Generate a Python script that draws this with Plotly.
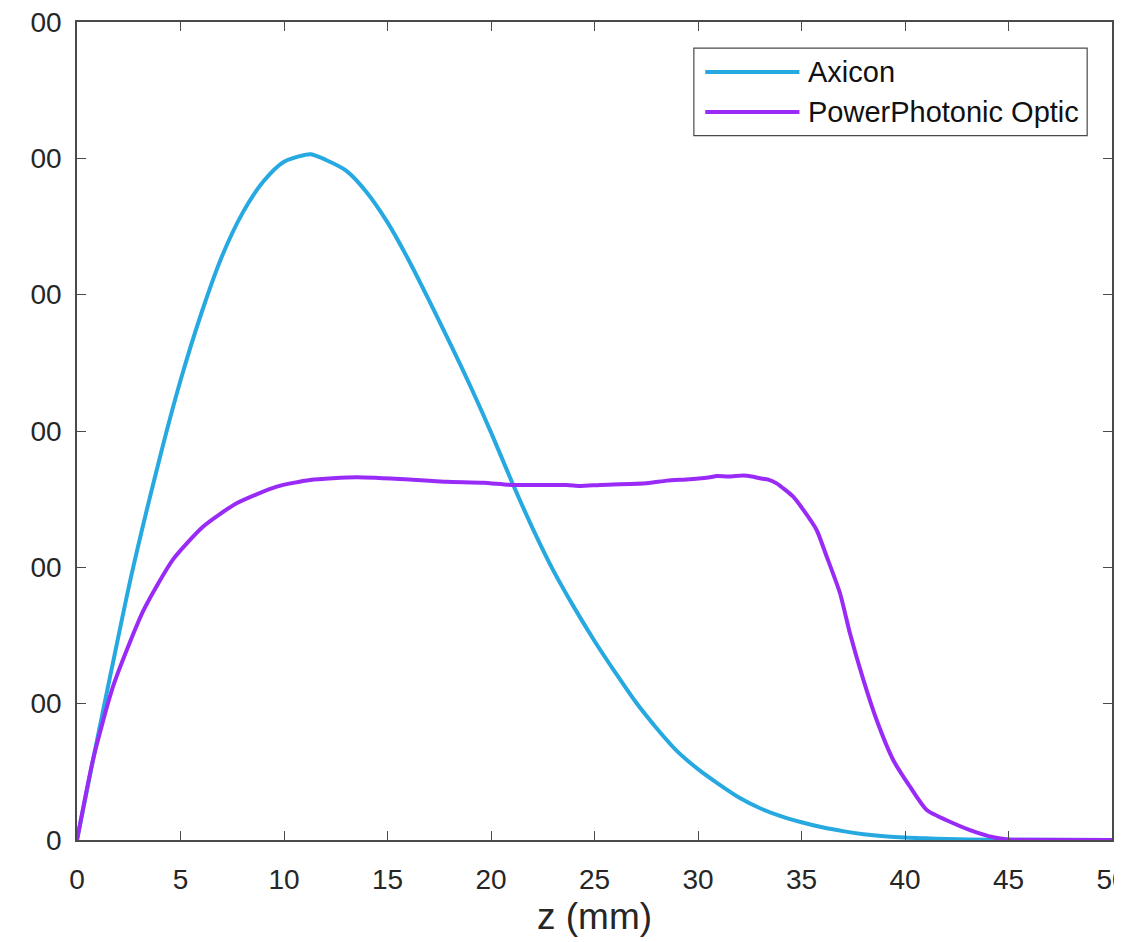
import plotly.graph_objects as go

# z positions (mm) and intensities
axicon_z = [0, 0.87, 1.75, 2.64, 4.01, 5, 6, 7, 8, 9, 10, 11, 11.3,
            12, 13, 14, 15, 16, 17, 18, 19, 20, 21, 22, 23, 24, 25, 26, 27, 28, 29, 30,
            31, 32, 33, 34, 35, 36, 37, 38, 39, 40, 41, 42, 43, 45, 50]
axicon_i = [0, 66, 131, 195, 281, 337, 386, 428, 460, 483, 497.5, 502.5, 503,
            499, 491, 475, 453, 426, 396, 365, 333, 299, 263, 229, 198, 171, 146, 123, 101,
            82, 65, 52, 41, 31, 23.3, 17.5, 13, 9.3, 6.5, 4.3, 2.8, 1.8, 1.2, 0.7, 0.4,
            0.15, 0]

pp_z = [0, 0.79, 1.75, 3.20, 4.65, 6.10, 7.71, 9.65, 11.26, 13.51, 16.41, 17.86, 19.63,
        21.08, 23.66, 24.30, 25.27, 27.52, 28.49, 29.6, 30.58, 30.90, 31.5, 32.19, 32.6,
        32.99, 33.4, 33.80, 34.60, 35.09, 35.73, 36.22, 36.86, 37.34, 37.99, 38.63, 39.43,
        40.24, 41.05, 42.17, 43.14, 44.27, 45.0, 46.0, 50]
pp_i = [0, 60, 113, 168, 206, 230, 247.0, 259.2, 264.1, 266.1, 264.1, 262.8,
        262.1, 260.4, 260.4, 259.7, 260.4, 261.6, 263.6, 264.6, 266.1, 267.0, 266.6, 267.3,
        266.6, 265.3, 264.3, 261.6, 251.8, 242.1, 227.4, 207.8, 181.0, 151.6, 117.4, 88.0,
        58.7, 39.1, 22.0, 13.4, 7.3, 2.0, 0.4, 0.1, 0]

x_ticks = [0, 5, 10, 15, 20, 25, 30, 35, 40, 45, 50]
y_ticks = [0, 100, 200, 300, 400, 500, 600]
y_ticktext = ["0", "00", "00", "00", "00", "00", "00"]

series_names = ["Axicon", "PowerPhotonic Optic"]
colors = ["#26A9E0", "#9A2BF7"]

fig = go.Figure()
fig.add_trace(go.Scatter(x=axicon_z, y=axicon_i, mode="lines", name=series_names[0],
                         line=dict(color=colors[0], width=4, shape="spline", smoothing=0.8)))
fig.add_trace(go.Scatter(x=pp_z, y=pp_i, mode="lines", name=series_names[1],
                         line=dict(color=colors[1], width=4, shape="spline", smoothing=0.6)))

axis_col = "#4a4a4a"
font_col = "#262626"
fig.update_layout(
    width=1114, height=934,
    margin=dict(l=69, r=10, t=14, b=102, autoexpand=False),
    paper_bgcolor="white", plot_bgcolor="white",
    showlegend=False,
    font=dict(family="Liberation Sans, Arial, sans-serif", color=font_col, size=28),
    xaxis=dict(range=[0, 50], tickvals=x_ticks, ticks="inside", ticklen=9, tickcolor=axis_col,
               showline=True, linecolor=axis_col, linewidth=1.5, mirror="ticks",
               showgrid=False, zeroline=False, tickfont=dict(size=28), automargin=False,
               ticklabeloverflow="allow", ticklabelstandoff=14,
               title=dict(text="z (mm)", font=dict(size=37), standoff=9)),
    yaxis=dict(range=[0, 600], tickvals=y_ticks, ticktext=y_ticktext, ticks="inside", ticklen=9,
               tickcolor=axis_col, showline=True, linecolor=axis_col, linewidth=1.5,
               mirror="ticks", showgrid=False, zeroline=False, tickfont=dict(size=28),
               automargin=False, ticklabeloverflow="allow", ticklabelstandoff=8),
)

# legend box drawn in paper coordinates
fig.add_shape(type="rect", xref="paper", yref="paper", x0=0.596, x1=0.976, y0=0.861, y1=0.968,
              line=dict(color=axis_col, width=1.2), fillcolor="white")
leg_y = [0.939, 0.890]
for name, col, yy in zip(series_names, colors, leg_y):
    fig.add_shape(type="line", xref="paper", yref="paper", x0=0.607, x1=0.698, y0=yy, y1=yy,
                  line=dict(color=col, width=4))
    fig.add_annotation(xref="paper", yref="paper", x=0.704, y=yy, text=name, showarrow=False,
                       xanchor="left", yanchor="middle", font=dict(size=29, color="#111111"))

fig.write_html("out.html")
